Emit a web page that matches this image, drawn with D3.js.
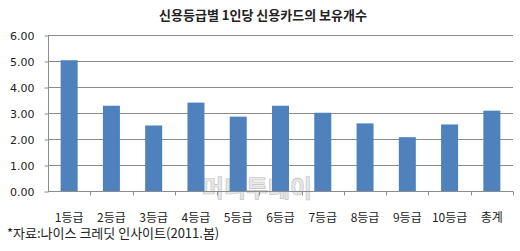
<!DOCTYPE html>
<html>
<head>
<meta charset="utf-8">
<script src="https://cdn.jsdelivr.net/npm/d3@7"></script>
<style>
body { margin: 0; background: #fff; }
text { font-family: "Noto Sans CJK KR", "Noto Sans", sans-serif; }
</style>
</head>
<body>
<div id="chart"></div>
<script>
var categories = ['1등급', '2등급', '3등급', '4등급', '5등급', '6등급', '7등급', '8등급', '9등급', '10등급', '총계'];
var cardCounts = [5.03, 3.28, 2.52, 3.40, 2.86, 3.28, 3.01, 2.60, 2.07, 2.56, 3.09];
var yTicks = [0, 1, 2, 3, 4, 5, 6];

var width = 520;
var height = 251;
var plotLeft = 48, plotRight = 513, plotTop = 35, plotBottom = 191;

var svg = d3.select('#chart')
	.append('svg')
	.attr('width', width)
	.attr('height', height);

var x = d3.scaleBand()
	.domain(categories)
	.range([plotLeft, plotRight]);

var y = d3.scaleLinear()
	.domain([0, 6])
	.range([plotBottom, plotTop]);

// title
svg.append('text')
	.attr('x', 263)
	.attr('y', 20)
	.attr('text-anchor', 'middle')
	.attr('font-size', 13)
	.attr('font-weight', 'bold')
	.attr('fill', '#222')
	.text('신용등급별 1인당 신용카드의 보유개수');

// gridlines
svg.append('g')
	.selectAll('line')
	.data(yTicks.slice(1))
	.enter().append('line')
	.attr('x1', plotLeft)
	.attr('x2', plotRight)
	.attr('y1', function(d) { return Math.round(y(d)) + 0.5; })
	.attr('y2', function(d) { return Math.round(y(d)) + 0.5; })
	.attr('stroke', '#8c8c8c')
	.attr('stroke-width', 1);

// watermark
svg.append('text')
	.attr('x', 257)
	.attr('y', 197)
	.attr('text-anchor', 'middle')
	.attr('font-size', 24)
	.attr('font-weight', 'bold')
	.attr('fill', '#e8e8e8')
	.attr('stroke', '#c4c4c4')
	.attr('stroke-width', 0.7)
	.text('머니투데이');

// bars
var barW = 17;
svg.append('g')
	.selectAll('rect')
	.data(cardCounts)
	.enter().append('rect')
	.attr('x', function(d, i) { return x(categories[i]) + x.bandwidth() / 2 - barW / 2; })
	.attr('y', function(d) { return y(d); })
	.attr('width', barW)
	.attr('height', function(d) { return y(0) - y(d); })
	.attr('fill', '#4f81bd');

// y axis
var yAxis = d3.axisLeft(y)
	.tickValues(yTicks)
	.tickFormat(d3.format('.2f'))
	.tickSize(4)
	.tickPadding(10);

var gy = svg.append('g')
	.attr('transform', 'translate(' + (plotLeft + 0.5) + ', 0.5)')
	.call(yAxis);
gy.select('.domain').attr('stroke', '#8c8c8c').attr('d', 'M0,' + y(6) + 'V' + y(0));
gy.selectAll('.tick line').attr('stroke', '#8c8c8c');
gy.selectAll('.tick text').attr('font-size', 11).attr('fill', '#222')
	.style('font-family', '"DejaVu Sans", sans-serif');

// x axis
var gx = svg.append('g')
	.attr('transform', 'translate(0, ' + (plotBottom + 0.5) + ')');
gx.append('line')
	.attr('x1', plotLeft)
	.attr('x2', plotRight)
	.attr('stroke', '#8c8c8c');
gx.selectAll('.tk')
	.data(categories)
	.enter().append('line')
	.attr('class', 'tk')
	.attr('x1', function(d) { return Math.round(x(d) + x.bandwidth()) + 0.5; })
	.attr('x2', function(d) { return Math.round(x(d) + x.bandwidth()) + 0.5; })
	.attr('y1', 0)
	.attr('y2', 4)
	.attr('stroke', '#8c8c8c');
gx.selectAll('.lbl')
	.data(categories)
	.enter().append('text')
	.attr('class', 'lbl')
	.attr('x', function(d) { return x(d) + x.bandwidth() / 2; })
	.attr('y', 30)
	.attr('text-anchor', 'middle')
	.attr('font-size', 12)
	.attr('fill', '#222')
	.text(function(d) { return d; });

// source
svg.append('text')
	.attr('x', 7)
	.attr('y', 238)
	.attr('font-size', 13)
	.attr('fill', '#222')
	.text('*자료:나이스 크레딧 인사이트(2011.봄)');
</script>
</body>
</html>
